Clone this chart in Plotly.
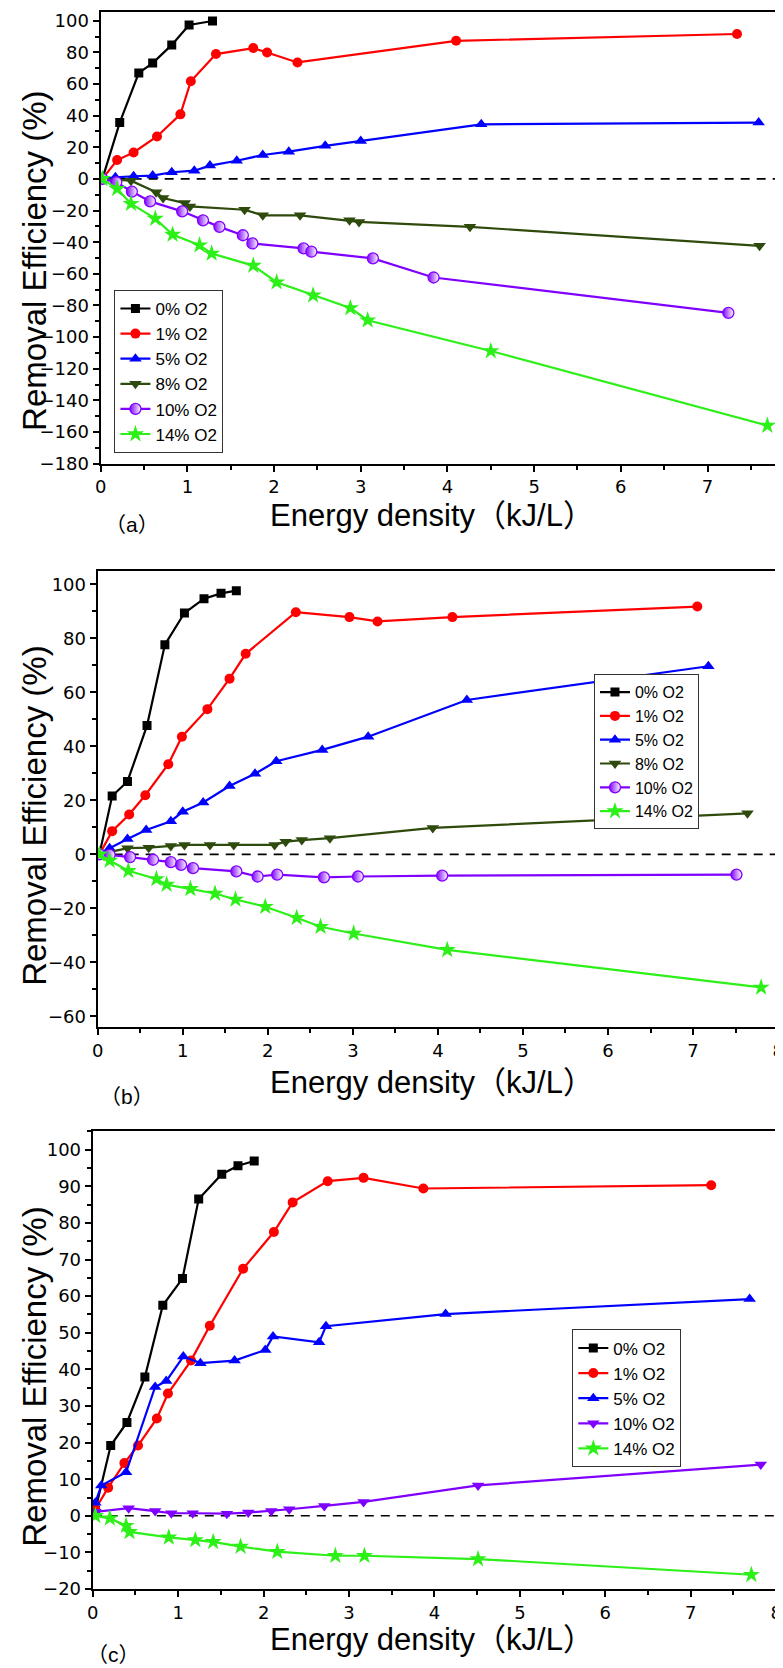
import plotly.graph_objects as go

# ---------------- data ----------------
series_names = ["0% O2", "1% O2", "5% O2", "8% O2", "10% O2", "14% O2"]
series_names_c = ["0% O2", "1% O2", "5% O2", "10% O2", "14% O2"]

# panel (a)
a_x0 = [0.02, 0.22, 0.44, 0.60, 0.82, 1.02, 1.29]
a_y0 = [0, 35.6, 67.0, 73.2, 84.7, 97.3, 99.8]
a_x1 = [0.02, 0.19, 0.38, 0.65, 0.92, 1.04, 1.33, 1.76, 1.92, 2.27, 4.10, 7.34]
a_y1 = [0, 11.9, 16.7, 26.8, 40.8, 61.7, 78.9, 82.7, 79.9, 73.6, 87.3, 91.6]
a_x5 = [0.02, 0.17, 0.38, 0.60, 0.82, 1.08, 1.26, 1.57, 1.87, 2.17, 2.59, 3.00, 4.39, 7.59]
a_y5 = [0, 1.0, 1.7, 2.1, 4.2, 5.2, 8.4, 11.5, 15.1, 17.2, 20.9, 24.0, 34.5, 35.6]
a_x8 = [0.02, 0.35, 0.64, 0.72, 0.97, 1.03, 1.66, 1.87, 2.30, 2.87, 2.98, 4.26, 7.60]
a_y8 = [0, -1.1, -8.4, -12.1, -15.3, -17.4, -19.5, -23.0, -23.0, -26.2, -27.2, -30.3, -42.3]
a_x10 = [0.02, 0.18, 0.36, 0.57, 0.94, 1.18, 1.37, 1.64, 1.75, 2.34, 2.43, 3.14, 3.84, 7.24]
a_y10 = [0, -2.1, -8.0, -14.2, -20.5, -26.2, -30.3, -35.6, -40.8, -43.9, -46.0, -50.2, -62.3, -84.7]
a_x14 = [0.02, 0.19, 0.35, 0.63, 0.83, 1.14, 1.28, 1.76, 2.03, 2.45, 2.88, 3.08, 4.50, 7.69]
a_y14 = [0, -6.3, -15.7, -25.1, -35.2, -41.9, -47.1, -54.8, -65.3, -73.6, -81.6, -89.3, -108.8, -155.9]

# panel (b)
b_x0 = [0.02, 0.17, 0.35, 0.58, 0.79, 1.02, 1.25, 1.45, 1.63]
b_y0 = [0, 21.6, 27.0, 47.7, 77.7, 89.4, 94.7, 96.7, 97.7]
b_x1 = [0.02, 0.17, 0.37, 0.56, 0.83, 0.99, 1.29, 1.55, 1.74, 2.33, 2.96, 3.29, 4.17, 7.05]
b_y1 = [0, 8.6, 14.8, 21.9, 33.4, 43.6, 53.8, 65.1, 74.3, 89.7, 87.9, 86.3, 87.9, 91.8]
b_x5 = [0.02, 0.14, 0.35, 0.57, 0.86, 1.00, 1.24, 1.55, 1.85, 2.10, 2.64, 3.18, 4.34, 7.18]
b_y5 = [0, 2.3, 5.7, 9.0, 12.3, 15.8, 19.2, 25.3, 29.9, 34.5, 38.7, 43.6, 57.2, 69.7]
b_x8 = [0.02, 0.35, 0.60, 0.86, 1.02, 1.32, 1.60, 2.08, 2.21, 2.40, 2.73, 3.94, 7.64]
b_y8 = [0, 2.3, 2.5, 3.1, 3.5, 3.5, 3.5, 3.5, 4.7, 5.3, 6.0, 9.8, 15.2]
b_x10 = [0.02, 0.14, 0.38, 0.65, 0.86, 0.98, 1.12, 1.63, 1.88, 2.11, 2.66, 3.06, 4.05, 7.51]
b_y10 = [0, -0.2, -1.0, -2.0, -2.9, -3.9, -5.1, -6.3, -8.2, -7.5, -8.5, -8.2, -7.9, -7.5]
b_x14 = [0.02, 0.14, 0.36, 0.69, 0.81, 1.09, 1.38, 1.62, 1.97, 2.34, 2.62, 3.01, 4.11, 7.80]
b_y14 = [0, -2.3, -6.1, -9.1, -11.2, -12.8, -14.5, -16.7, -19.4, -23.5, -26.8, -29.3, -35.4, -49.3]

# panel (c)
c_x0 = [0.03, 0.21, 0.40, 0.61, 0.82, 1.05, 1.24, 1.51, 1.70, 1.89]
c_y0 = [1.5, 19.2, 25.5, 37.9, 57.5, 64.8, 86.5, 93.3, 95.6, 96.9]
c_x1 = [0.03, 0.18, 0.37, 0.53, 0.75, 0.88, 1.15, 1.37, 1.76, 2.12, 2.34, 2.75, 3.17, 3.87, 7.24]
c_y1 = [1.8, 7.7, 14.4, 19.2, 26.6, 33.4, 42.4, 51.9, 67.5, 77.5, 85.6, 91.4, 92.3, 89.4, 90.3]
c_x5 = [0.03, 0.10, 0.39, 0.73, 0.86, 1.06, 1.26, 1.66, 2.02, 2.11, 2.65, 2.73, 4.13, 7.69]
c_y5 = [3.6, 8.3, 11.9, 35.2, 36.8, 43.5, 41.7, 42.4, 45.3, 49.0, 47.4, 51.8, 55.1, 59.2]
c_x10 = [0.03, 0.42, 0.73, 0.92, 1.17, 1.57, 1.82, 2.09, 2.30, 2.71, 3.17, 4.51, 7.82]
c_y10 = [1.1, 2.1, 1.3, 0.7, 0.7, 0.6, 0.9, 1.3, 1.8, 2.7, 3.8, 8.3, 14.0]
c_x14 = [0.03, 0.20, 0.39, 0.43, 0.89, 1.20, 1.41, 1.73, 2.16, 2.84, 3.18, 4.51, 7.71]
c_y14 = [0, -0.7, -2.7, -4.4, -5.9, -6.6, -7.1, -8.4, -9.8, -10.9, -10.9, -11.8, -16.1]

x_title = "Energy density（kJ/L）"
y_title = "Removal Efficiency (%)"
panel_tags = ["（a）", "（b）", "（c）"]

# ---------------- styles ----------------
PURPLE = "#8000FF"
GREEN = "#2CF018"
DKGREEN = "#2E4A0C"
style = {
    "0% O2": dict(color="black", symbol="square", size=9),
    "1% O2": dict(color="#FF0000", symbol="circle", size=10),
    "5% O2": dict(color="#0000FF", symbol="triangle-up", size=11),
    "8% O2": dict(color=DKGREEN, symbol="triangle-down", size=11),
    "10% O2": dict(color=PURPLE, symbol="circle", size=11, half=True),
    "14% O2": dict(color=GREEN, symbol="star", size=13),
}
style_c10 = dict(color=PURPLE, symbol="triangle-down", size=11)

LAB_FONT = "Liberation Sans, Arial, Noto Sans CJK SC, sans-serif"
TICK_FONT = "DejaVu Sans, Liberation Sans, sans-serif"

fig = go.Figure()

panels = [
    ("x", "y", "legend", series_names,
     [(a_x0, a_y0), (a_x1, a_y1), (a_x5, a_y5), (a_x8, a_y8), (a_x10, a_y10), (a_x14, a_y14)]),
    ("x2", "y2", "legend2", series_names,
     [(b_x0, b_y0), (b_x1, b_y1), (b_x5, b_y5), (b_x8, b_y8), (b_x10, b_y10), (b_x14, b_y14)]),
    ("x3", "y3", "legend3", series_names_c,
     [(c_x0, c_y0), (c_x1, c_y1), (c_x5, c_y5), (c_x10, c_y10), (c_x14, c_y14)]),
]

for pi, (xa, ya, lg, names, data) in enumerate(panels):
    for name, (xs, ys) in zip(names, data):
        st = style[name]
        if pi == 2 and name == "10% O2":
            st = style_c10
        marker = dict(symbol=st["symbol"], size=st["size"], color=st["color"],
                      line=dict(width=0))
        if st.get("half"):
            marker = dict(symbol="circle", size=st["size"], color=st["color"],
                          gradient=dict(type="horizontal", color="white"),
                          line=dict(width=1.3, color=st["color"]))
        fig.add_trace(go.Scatter(
            x=xs, y=ys, mode="lines+markers", name=name,
            line=dict(color=st["color"], width=2.2),
            marker=marker, xaxis=xa, yaxis=ya, legend=lg,
        ))

# ---------------- layout ----------------
W, H = 783, 1668

def dom_x(l, r):
    return [l / W, r / W]

def dom_y(top, bottom):
    return [1 - bottom / H, 1 - top / H]

def axis_common():
    return dict(
        showline=True, linecolor="black", linewidth=2.2, mirror=True,
        ticks="outside", ticklen=6, tickwidth=1.6, tickcolor="black",
        showgrid=False, zeroline=False,
        tickfont=dict(family=TICK_FONT, size=18, color="black"),
    )

layout_axes = {}
specs = [
    ("xaxis", "yaxis", (88, 773), (2, 457), [0, 7.78], [-180, 105.5], 20, "y", "x"),
    ("xaxis2", "yaxis2", (85, 776), (565, 1024.5), [0, 8], [-64, 105], 20, "y2", "x2"),
    ("xaxis3", "yaxis3", (80, 774), (1129.5, 1590.5), [0, 8], [-20, 105], 10, "y3", "x3"),
]
for xk, yk, (l, r), (t, b), xr, yr, ydt, yanc, xanc in specs:
    xa = axis_common()
    xa.update(domain=dom_x(l, r), range=xr, dtick=1, tick0=0, anchor=yanc,
              minor=dict(ticks="outside", ticklen=4, tickwidth=1.6, tickcolor="black", dtick=0.5))
    ya = axis_common()
    ya.update(domain=dom_y(t, b), range=yr, dtick=ydt, tick0=0, anchor=xanc,
              minor=dict(ticks="outside", ticklen=4, tickwidth=1.6, tickcolor="black", dtick=ydt / 2))
    layout_axes[xk] = xa
    layout_axes[yk] = ya

def legend_at(lpx, tpx, size):
    return dict(x=lpx / W, y=1 - tpx / H, xanchor="left", yanchor="top",
                bgcolor="white", bordercolor="#333333", borderwidth=1,
                font=dict(family=LAB_FONT, size=size, color="black"),
                tracegroupgap=0, itemwidth=30)

shapes = []
for xr_ref, yr_ref in [("x", "y"), ("x2", "y2"), ("x3", "y3")]:
    shapes.append(dict(type="line", xref=f"{xr_ref} domain", yref=yr_ref,
                       x0=0, x1=1, y0=0, y1=0, layer="below",
                       line=dict(color="black", width=1.6, dash="9px,7px")))

annotations = []
for cy in [252, 811, 1376]:
    annotations.append(dict(text=y_title, xref="paper", yref="paper",
                            x=20 / W, y=1 - cy / H, textangle=-90, showarrow=False,
                            font=dict(family=LAB_FONT, size=33, color="black"),
                            xanchor="center", yanchor="middle"))
for cx, cy in [(424, 509), (425, 1080), (424, 1641)]:
    annotations.append(dict(text=x_title, xref="paper", yref="paper",
                            x=cx / W, y=1 - cy / H, showarrow=False,
                            font=dict(family=LAB_FONT, size=31, color="black"),
                            xanchor="center", yanchor="middle"))
for tag, (cx, cy) in zip(panel_tags, [(120, 518), (115, 1094), (101, 1656)]):
    annotations.append(dict(text=tag, xref="paper", yref="paper",
                            x=cx / W, y=1 - cy / H, showarrow=False,
                            font=dict(family=LAB_FONT, size=21, color="black"),
                            xanchor="center", yanchor="middle"))

fig.update_layout(
    width=W, height=H, margin=dict(l=0, r=0, t=0, b=0),
    paper_bgcolor="white", plot_bgcolor="white",
    showlegend=True,
    legend=legend_at(102, 282, 17),
    legend2=legend_at(589, 669, 16),
    legend3=legend_at(567, 1329, 17),
    shapes=shapes, annotations=annotations,
    **layout_axes,
)

fig.write_html("out.html")
